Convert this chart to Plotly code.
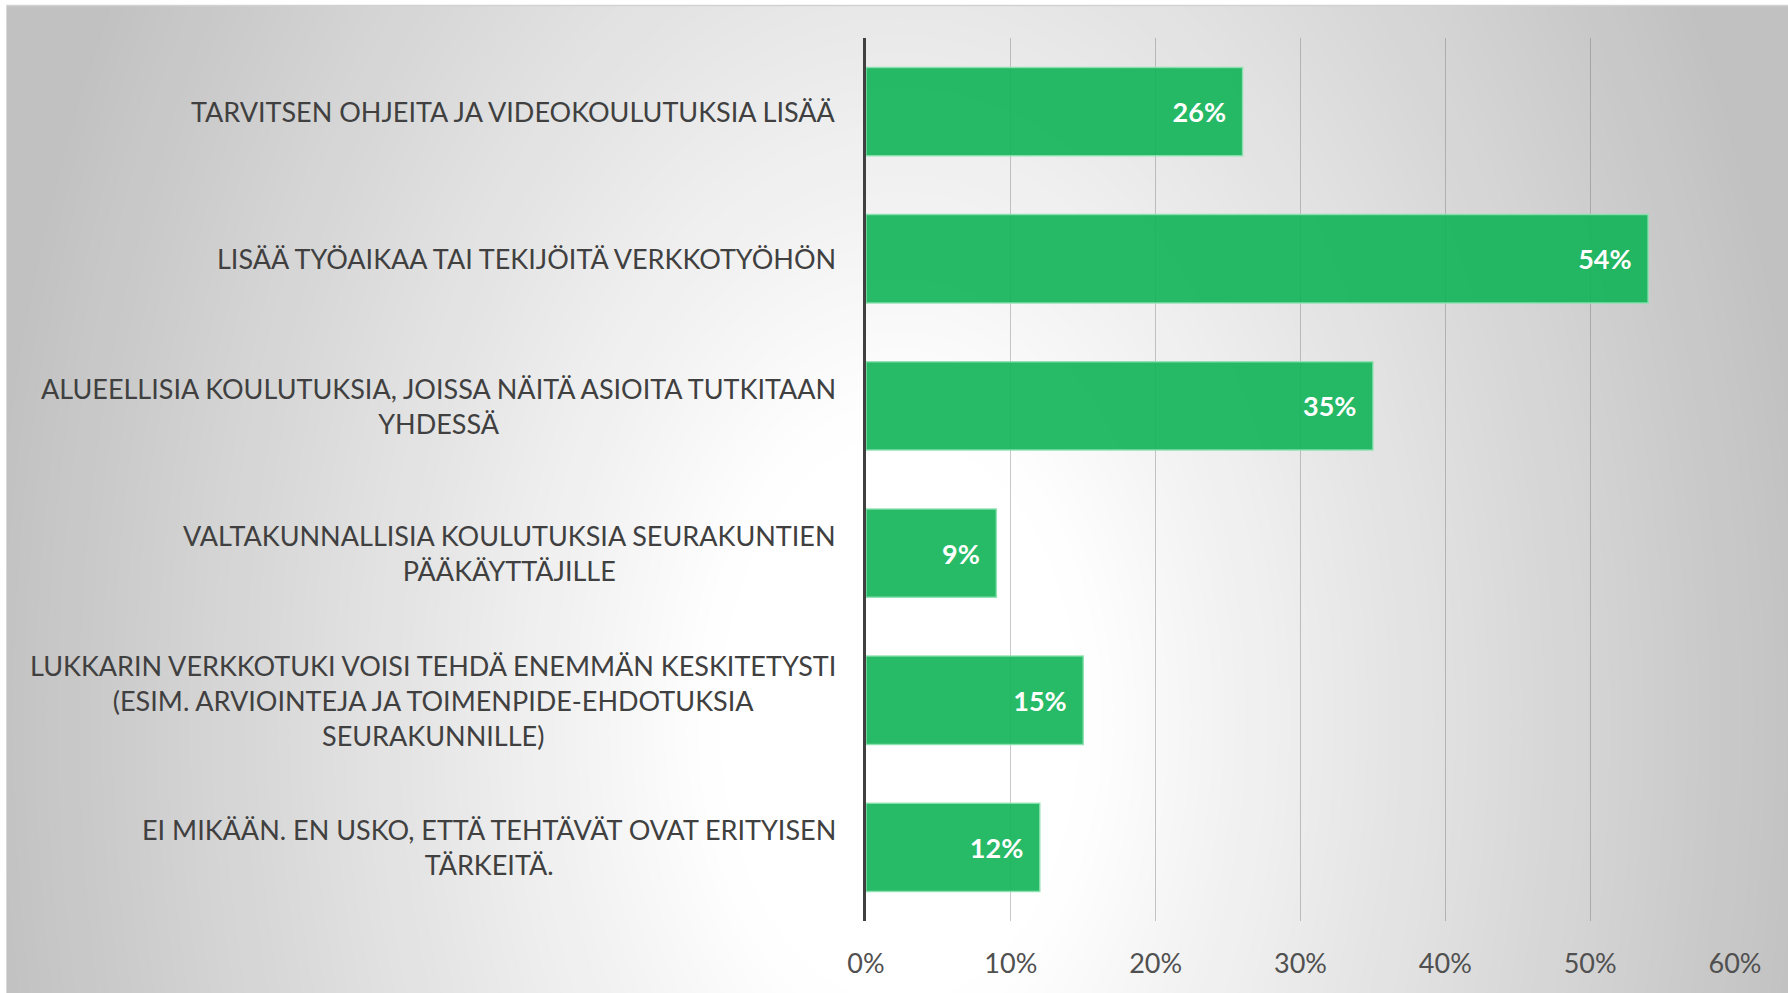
import numpy as np
import plotly.graph_objects as go

categories = [
    "TARVITSEN OHJEITA JA VIDEOKOULUTUKSIA LISÄÄ",
    "LISÄÄ TYÖAIKAA TAI TEKIJÖITÄ VERKKOTYÖHÖN",
    "ALUEELLISIA KOULUTUKSIA, JOISSA NÄITÄ ASIOITA TUTKITAAN<br>YHDESSÄ",
    "VALTAKUNNALLISIA KOULUTUKSIA SEURAKUNTIEN<br>PÄÄKÄYTTÄJILLE",
    "LUKKARIN VERKKOTUKI VOISI TEHDÄ ENEMMÄN KESKITETYSTI<br>(ESIM. ARVIOINTEJA JA TOIMENPIDE-EHDOTUKSIA<br>SEURAKUNNILLE)",
    "EI MIKÄÄN. EN USKO, ETTÄ TEHTÄVÄT OVAT ERITYISEN<br>TÄRKEITÄ.",
]
values = [0.26, 0.54, 0.35, 0.09, 0.15, 0.12]
tick_vals = [0, 0.1, 0.2, 0.3, 0.4, 0.5, 0.6]
tick_text = ["0%", "10%", "20%", "30%", "40%", "50%", "60%"]

W, H = 1788, 993
L, R, T, B = 866, 1735, 38, 921
FONT = "Lato, 'Open Sans', sans-serif"

def px_x(px):
    return (px - L) / (R - L)

def px_y(py):
    return (B - py) / (B - T)

fig = go.Figure()
fig.add_trace(go.Bar(
    y=list(range(len(categories))),
    x=values,
    orientation="h",
    marker=dict(color="rgba(15,179,86,0.9)", line=dict(color="rgba(140,225,175,0.9)", width=1.5)),
    texttemplate="%{x:.0%}\u2002",
    textposition="inside",
    insidetextanchor="end",
    textfont=dict(family=FONT, size=27, color="white", weight="bold"),
    hoverinfo="skip",
))

shapes = []
# radial gradient background
cx, cy, ax, ay = 900, 720, 920, 1450
for t in np.arange(1.6, 0.18, -0.012):
    g = 255 - 62 * min(max((t - 0.2) / 0.8, 0), 1)
    g = round(g, 1)
    shapes.append(dict(
        type="circle", xref="paper", yref="paper", layer="below",
        x0=px_x(cx - t * ax), x1=px_x(cx + t * ax),
        y0=px_y(cy + t * ay), y1=px_y(cy - t * ay),
        fillcolor=f"rgb({g},{g},{g})", line=dict(width=0),
    ))
# white frame strips
shapes.append(dict(type="rect", xref="paper", yref="paper", layer="below",
                   x0=px_x(-5), x1=px_x(W + 5), y0=px_y(5), y1=px_y(-5),
                   fillcolor="white", line=dict(width=0)))
shapes.append(dict(type="rect", xref="paper", yref="paper", layer="below",
                   x0=px_x(-5), x1=px_x(6), y0=px_y(H + 5), y1=px_y(-5),
                   fillcolor="white", line=dict(width=0)))
shapes.append(dict(type="line", xref="paper", yref="paper", layer="below",
                   x0=px_x(6), x1=px_x(W + 5), y0=px_y(5.5), y1=px_y(5.5),
                   line=dict(color="#d2d2d2", width=1.5)))
shapes.append(dict(type="line", xref="paper", yref="paper", layer="below",
                   x0=px_x(6.5), x1=px_x(6.5), y0=px_y(5.5), y1=px_y(H + 5),
                   line=dict(color="#d8d8d8", width=1)))

annotations = []
for i, c in enumerate(categories):
    annotations.append(dict(
        xref="paper", yref="y", x=0, y=i, xanchor="right", yanchor="middle",
        xshift=-28, text=c, align="center", showarrow=False,
        font=dict(family=FONT, size=27, color="#404040"),
    ))

fig.update_layout(
    width=W, height=H, autosize=False,
    margin=dict(l=L, r=W - R, t=T, b=H - B, pad=0),
    paper_bgcolor="rgb(193,193,193)",
    plot_bgcolor="rgba(0,0,0,0)",
    bargap=0.4,
    showlegend=False,
    shapes=shapes,
    annotations=annotations,
    xaxis=dict(
        range=[0, 0.6], tickvals=tick_vals, ticktext=tick_text,
        showgrid=True, gridcolor="rgba(90,90,90,0.33)", gridwidth=1,
        zeroline=False, showline=False, ticks="",
        tickfont=dict(family=FONT, size=27, color="#505050"),
        ticklabelstandoff=24, fixedrange=True,
    ),
    yaxis=dict(
        range=[len(categories) - 0.5, -0.5],
        showticklabels=False, showgrid=False, zeroline=False,
        showline=True, linecolor="#404040", linewidth=2.5, ticks="",
        fixedrange=True,
    ),
)

fig.write_html(
    "out.html",
    config={"displayModeBar": False},
    post_script="document.body.style.margin='0';document.body.style.overflow='hidden';",
)
